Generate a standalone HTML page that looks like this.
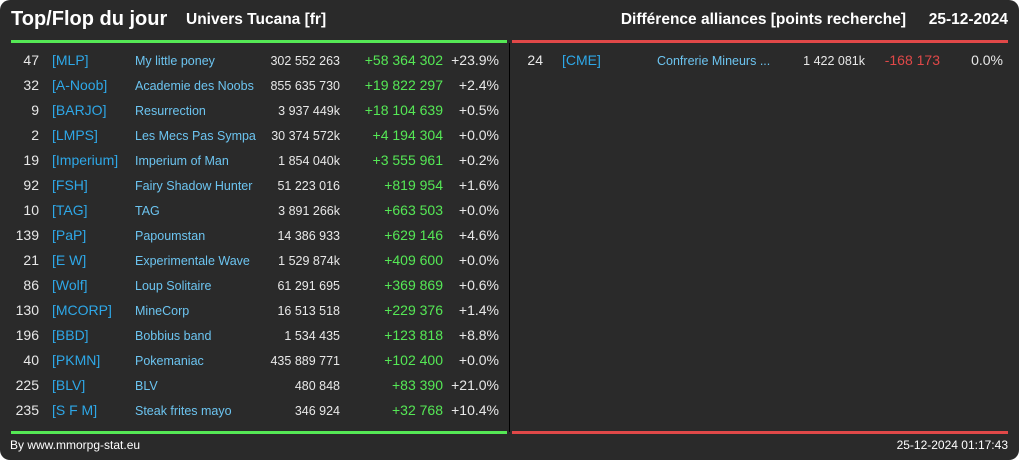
<!DOCTYPE html>
<html><head><meta charset="utf-8"><style>
body{margin:0;background:#fff;width:1019px;height:460px;overflow:hidden;font-family:"Liberation Sans",sans-serif}
#card{position:absolute;left:0;top:0;width:1019px;height:460px;background:#2a2a2a;border-radius:10px}
.t{position:absolute;white-space:nowrap;line-height:1}
.r{text-align:right}
</style></head><body>
<div id="card">
<div class="t" style="left:11px;top:9px;font-size:20px;font-weight:bold;color:#fff">Top/Flop du jour</div>
<div class="t" style="left:186px;top:12px;font-size:15.5px;font-weight:bold;color:#fff">Univers Tucana [fr]</div>
<div class="t" style="right:113px;top:12px;font-size:15.5px;font-weight:bold;color:#fff">Différence alliances [points recherche]</div>
<div class="t" style="right:11px;top:12px;font-size:15.5px;font-weight:bold;color:#fff">25-12-2024</div>
<div style="position:absolute;left:11px;top:40px;width:496px;height:3px;background:#55e855"></div>
<div style="position:absolute;left:512px;top:40px;width:496px;height:3px;background:#e04848"></div>
<div style="position:absolute;left:509px;top:43px;width:1px;height:389px;background:#000"></div>
<div style="position:absolute;left:11px;top:431px;width:496px;height:3px;background:#55e855"></div>
<div style="position:absolute;left:512px;top:431px;width:496px;height:3px;background:#e04848"></div>
<div class="t" style="left:10px;top:439px;font-size:12px;color:#fff">By www.mmorpg-stat.eu</div>
<div class="t" style="right:11px;top:439px;font-size:12px;color:#fff">25-12-2024 01:17:43</div>
<div id="rows"></div>
</div>
<script>
const ranks=[47,32,9,2,19,92,10,139,21,86,130,196,40,225,235];
const tags=["[MLP]","[A-Noob]","[BARJO]","[LMPS]","[Imperium]","[FSH]","[TAG]","[PaP]","[E W]","[Wolf]","[MCORP]","[BBD]","[PKMN]","[BLV]","[S F M]"];
const names=["My little poney","Academie des Noobs","Resurrection","Les Mecs Pas Sympa","Imperium of Man","Fairy Shadow Hunter","TAG","Papoumstan","Experimentale Wave","Loup Solitaire","MineCorp","Bobbius band","Pokemaniac","BLV","Steak frites mayo"];
const totals=["302 552 263","855 635 730","3 937 449k","30 374 572k","1 854 040k","51 223 016","3 891 266k","14 386 933","1 529 874k","61 291 695","16 513 518","1 534 435","435 889 771","480 848","346 924"];
const diffs=["+58 364 302","+19 822 297","+18 104 639","+4 194 304","+3 555 961","+819 954","+663 503","+629 146","+409 600","+369 869","+229 376","+123 818","+102 400","+83 390","+32 768"];
const pcts=["+23.9%","+2.4%","+0.5%","+0.0%","+0.2%","+1.6%","+0.0%","+4.6%","+0.0%","+0.6%","+1.4%","+8.8%","+0.0%","+21.0%","+10.4%"];
const flopRanks=[24];
const flopTags=["[CME]"];
const flopNames=["Confrerie Mineurs ..."];
const flopTotals=["1 422 081k"];
const flopDiffs=["-168 173"];
const flopPcts=["0.0%"];
const host=document.getElementById('rows');
function cell(txt,x,y,size,color,right,name){
  const d=document.createElement('div');
  d.className='t'+(right?' r':'');
  d.textContent=txt;
  d.style.top=(y-size/2)+'px';d.style.fontSize=size+'px';d.style.color=color;
  if(right){d.style.right=(1019-x)+'px';}else{d.style.left=x+'px';}
  
  
  host.appendChild(d);
}
function rowY(i){return 60+i*25;}
ranks.forEach((v,i)=>{const y=rowY(i);
  cell(String(v),39,y,14,'#e8e8e8',true,'top-rank');
  cell(tags[i],52,y,14,'#2ea8e8',false,'top-tag');
  cell(names[i],135,y+1,12.5,'#6cc4f0',false,'top-name');
  cell(totals[i],340,y+1,12.5,'#e8e8e8',true,'top-total');
  cell(diffs[i],443,y,14,'#55e855',true,'top-diff');
  cell(pcts[i],499,y,14,'#e8e8e8',true,'top-pct');
});
flopRanks.forEach((v,i)=>{const y=rowY(i);
  cell(String(v),543,y,14,'#e8e8e8',true,'flop-rank');
  cell(flopTags[i],562,y,14,'#2ea8e8',false,'flop-tag');
  cell(flopNames[i],657,y+1,12.5,'#6cc4f0',false,'flop-name');
  cell(flopTotals[i],865,y+1,12.5,'#e8e8e8',true,'flop-total');
  cell(flopDiffs[i],940,y,14,'#e04848',true,'flop-diff');
  cell(flopPcts[i],1003,y,14,'#e8e8e8',true,'flop-pct');
});
</script>
</body></html>
